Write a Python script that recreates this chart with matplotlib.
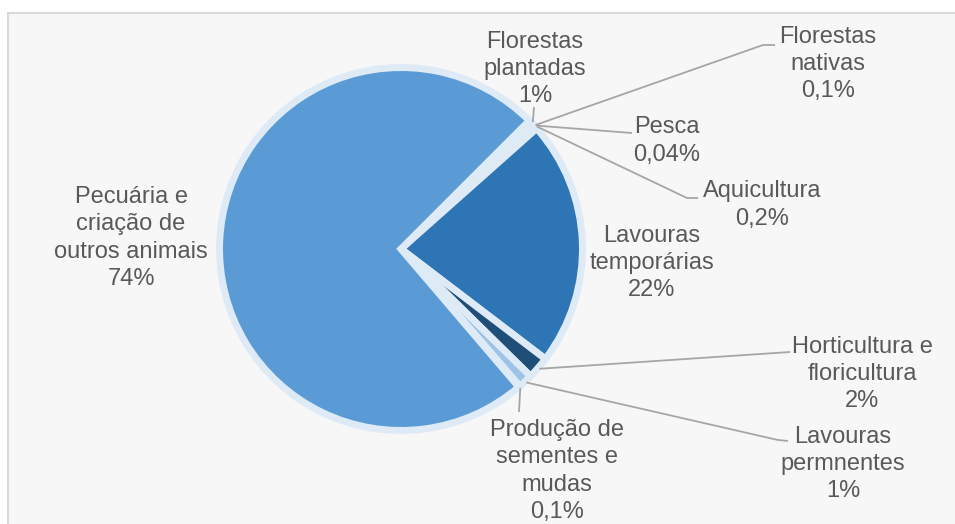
import numpy as np
import matplotlib.pyplot as plt
from matplotlib.patches import Rectangle

plt.rcParams['font.family'] = ['Liberation Sans', 'DejaVu Sans']

W, H = 955, 524

# slices in clockwise order, starting right after "Pecuária"
categories = ['Florestas\nplantadas', 'Florestas\nnativas', 'Pesca', 'Aquicultura',
              'Lavouras\ntemporárias', 'Horticultura e\nfloricultura',
              'Lavouras\npermnentes', 'Produção de\nsementes e\nmudas',
              'Pecuária e\ncriação de\noutros animais']
# shares
values = [0.6, 0.1, 0.04, 0.2, 22, 2, 1.3, 0.1, 74]
# percentages as printed on the chart
pct_labels = ['1%', '0,1%', '0,04%', '0,2%', '22%', '2%', '1%', '0,1%', '74%']
colors = ['#DAE8F5', '#BDD7EE', '#A9C8E8', '#8FB4DE', '#2E75B6', '#1F4E79',
          '#9DC3E6', '#BDD7EE', '#5B9BD5']

# label layout (pixel coords, origin top-left): text centre and leader line points
label_pos = [(535, 69), (828, 64), (667, 141), (762, 205), (652, 263),
             (862, 374), (843, 464), (557, 471), (131, 238)]
leader_pts = [[(534, 107)], [(763, 45), (775, 45)], [(632, 133)],
              [(687, 198), (698, 198)], None, [(790, 352)],
              [(778, 440), (788, 441)], [(519, 412)], None]

fig = plt.figure(figsize=(W / 100, H / 100), dpi=100)
fig.patch.set_facecolor('white')

bg = fig.add_axes([0, 0, 1, 1], zorder=0)
bg.set_xlim(0, W)
bg.set_ylim(H, 0)
bg.axis('off')
bg.add_patch(Rectangle((8, 13), W, H, facecolor='#F7F7F7', edgecolor='#D9D9D9', lw=1.5))

# pie
cx, cy, r = 401, 249, 181.5
size = 2.5 * r
ax = fig.add_axes([(cx - size / 2) / W, (H - cy - size / 2) / H, size / W, size / H], zorder=1)
ax.patch.set_alpha(0)
wedges, _ = ax.pie(values, colors=colors, startangle=45.0, counterclock=False, radius=1,
                   wedgeprops=dict(edgecolor='#DEEBF7', linewidth=7 * 72 / 100))
ax.set_xlim(-1.25, 1.25)
ax.set_ylim(-1.25, 1.25)

fg = fig.add_axes([0, 0, 1, 1], zorder=2)
fg.set_xlim(0, W)
fg.set_ylim(H, 0)
fg.axis('off')

for w, name, lab, pos, pts in zip(wedges, categories, pct_labels, label_pos, leader_pts):
    if pts is not None:
        mid = np.deg2rad((w.theta1 + w.theta2) / 2)
        sx = cx + 183 * np.cos(mid)
        sy = cy - 183 * np.sin(mid)
        xs = [sx] + [p[0] for p in pts]
        ys = [sy] + [p[1] for p in pts]
        fg.plot(xs, ys, color='#A6A6A6', lw=1.3, solid_capstyle='butt')
    fg.text(pos[0], pos[1], name + '\n' + lab, ha='center', va='center',
            multialignment='center', fontsize=17, color='#595959', linespacing=1.3)

fig.savefig('out.png', dpi=100, facecolor='white')
